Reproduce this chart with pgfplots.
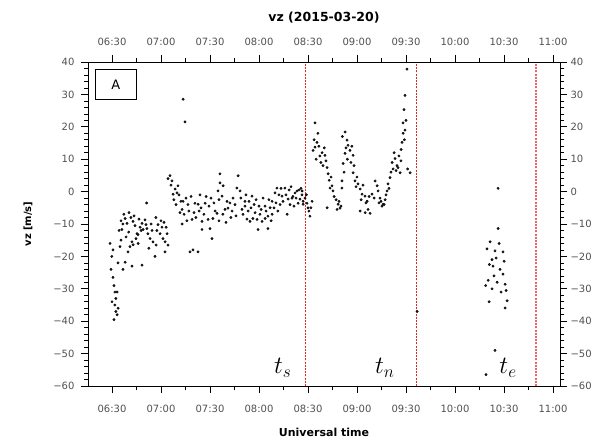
\documentclass[border=0pt]{standalone}
\usepackage{fontspec}
\setmainfont{DejaVu Sans}
\usepackage{pgfplots}
\pgfplotsset{compat=1.18}
\usetikzlibrary{calc}
\definecolor{tickgray}{RGB}{80,80,80}
\definecolor{cutred}{RGB}{225,40,40}

% vz samples, x = minutes after 06:00 UT
\pgfplotstableread{
m v
28.8 -16
29.4 -24
29.9 -20
30.6 -18
30.6 -26.5
31.2 -29
31.8 -31
31.8 -35
32.4 -33
33.1 -31
33.1 -38
33.7 -36
32.4 -37
31.2 -39.5
30.0 -34
33.7 -22
34.3 -12
34.9 -17
35.5 -9
36.7 -24
38.0 -21.8
42.2 -23
48.4 -22.7
56.3 -20
62.5 -18.6
38.0 -8.3
36.7 -10
36.1 -11.7
39.2 -9.8
42.9 -9.2
45.3 -13
45.9 -13.3
48.4 -9.8
49.0 -11.7
51.4 -11.4
52.0 -13
53.3 -14.5
55.1 -15.5
58.2 -10.2
59.4 -13
61.2 -14.5
62.5 -15.5
42.2 -15.5
41.0 -17
42.9 -16.4
39.8 -18.6
37.3 -7
40.4 -6.5
41.6 -8
43.5 -7.5
44.1 -10.5
46.5 -8.5
47.2 -11
47.8 -12
50.2 -8.7
50.8 -10.2
53.9 -10
54.5 -12
56.9 -8
57.5 -12
60.0 -9
60.6 -11
61.8 -9.5
63.1 -11
63.7 -13
64.3 -16.5
44.7 -14.5
46.0 -16
38.6 -14
40.2 -12.5
35.5 -15
57.0 -16.5
52.6 -17.5
51.2 -3.5
65.5 4.9
64.3 4
66.7 3.3
68.6 0.8
69.8 -0.4
67.4 -0.8
70.4 1.8
73.5 -3
72.9 -5.5
72.9 -10
76.5 -4
79.0 -8.6
77.8 -18.6
79.6 -18
73.5 28.5
74.7 21.5
80.8 -3.6
82.7 -3.9
87.0 -3.6
85.1 -9.2
88.8 -8.6
85.1 -11.7
90.0 -11.4
91.2 -14.5
82.7 -18.6
91.8 -8.3
94.3 -6.7
93.1 -6
96.1 5.5
96.1 2.7
94.9 0.2
97.4 -1.4
100.4 -3
99.2 -5.5
101.0 -5.1
103.5 -6
98.0 1.8
104.1 -2
107.2 4.9
106.5 1.1
108.4 0.2
109.6 -5.5
111.4 -4.5
111.4 -3
113.3 -6
115.7 -1.4
116.3 -8.3
114.5 -9.2
118.8 -8.6
119.4 -11.7
120.6 -7
121.9 -9.2
123.7 -8.3
123.7 -4.5
125.5 -7.6
125.5 -11.4
128.0 -7
128.0 -3
129.8 -0.4
131.0 1.1
134.1 -1.4
135.9 1.1
137.2 -7
137.8 -2.3
140.2 -2
142.1 -0.4
143.3 0.2
143.9 -3.6
145.1 -2.3
66.1 2
67.9 -2.5
69.2 -4
71.0 -1
71.6 -6.5
72.2 -3
74.1 -7
75.3 -2
75.9 -9
77.1 -6
78.4 -1.5
80.2 -6.5
81.4 -8
83.3 -6
83.9 -1
84.5 -5
86.3 -7
87.6 -1.5
89.4 -4.5
90.6 -2
92.4 -3.5
95.5 -2.5
95.5 -9
97.9 -7
99.8 -9.5
102.2 -3.5
102.8 -8
105.3 -4
105.9 -7.5
108.9 -2
110.2 -7
112.0 -1
112.6 -8.5
113.9 -3
115.1 -5
117.0 -4
117.6 -6.5
118.2 -2.5
120.0 -4.5
121.3 -5.5
122.5 -2
124.3 -6
126.1 -2.5
126.8 -5
127.4 -9
129.2 -5
130.4 -3.5
131.6 -6
132.2 -1
132.9 -4
133.5 1
134.7 -3
136.5 -1
138.4 0.5
139.0 -4
139.6 1.5
140.8 -1.5
141.4 -4.5
142.7 -2
144.5 0.5
145.7 1
146.3 -1
147.0 -3
146.4 0.2
148.2 -2
149.4 -3.6
150.0 -5
151.2 -7.6
152.5 -3
147.0 -3.9
149.0 -1
150.6 -6
151.8 -5
154.3 21.2
156.1 18
155.5 15.2
153.1 12.7
154.3 13.7
158.6 12
160.4 11.2
159.2 8
161.7 7.4
162.3 5.5
163.5 1.1
165.3 0.2
164.7 1.8
168.4 -3.9
169.6 -5.1
161.7 -5
172.7 18.4
173.9 15.9
174.5 14.3
175.7 12.7
172.7 11.8
177.6 11.2
171.5 8.7
170.8 3.3
170.8 1.1
177.6 5.8
178.8 3.3
180.6 2.4
181.9 0.8
183.1 -0.8
184.9 -1.4
186.2 -3
181.9 -6
186.8 -5.5
189.2 -0.8
188.0 -6.7
153.7 16
155.0 10
156.7 14
157.3 11
157.9 9
160.0 13.5
161.0 9.5
163.0 3.5
164.1 4.5
166.0 -1.5
167.2 -2.5
167.8 -5.5
169.0 -3
170.2 -4.5
173.3 13.5
174.1 10
176.3 9
176.9 14
178.2 8
179.4 1.5
180.0 4.5
182.5 -2.5
183.7 2
185.5 -3.5
187.4 -1.5
185.0 -6.5
171.0 17
172.1 6
191.1 3.3
192.3 1.8
192.9 0.2
194.1 -2
195.3 -4.5
196.0 -3.9
198.4 0.2
199.0 2.4
200.2 4.3
201.5 9
203.3 10.2
204.5 8
205.1 7.4
206.4 5.8
207.6 15.2
208.2 18
209.4 19
208.2 21.2
212.5 5.8
208.8 25.3
209.4 29.7
210.6 37.8
216.8 -37
190.5 -2
193.5 -3.5
194.7 -3
196.6 -4
197.2 -2.5
197.8 -1
199.6 1
200.8 6
202.1 7
202.7 12
203.9 6.5
205.7 11
206.9 9.5
207.0 13
209.0 16
210.0 22
211.0 7
266.4 1
266.4 -11.4
259.6 -17.7
264.5 -18.3
269.4 -18.6
262.7 -21
263.3 -23
269.4 -25.5
260.3 -27.4
265.8 -28
262.7 -30
270.7 -28.6
271.9 -33.7
260.9 -34
270.7 -35.9
264.5 -49
259.0 -56.5
261.5 -15.5
263.9 -26
267.6 -24
268.2 -31
261.0 -22.5
265.2 -20.5
267.0 -16
270.1 -21.5
258.8 -29
271.3 -30.5
}\vzdata

\pgfplotsset{
  vzframe/.style={
    scale only axis, width=472pt, height=324pt,
    xmin=15.3, xmax=304.3, ymin=-60, ymax=40,
    xtick={30,60,...,300},
    xticklabels={06:30,07:00,07:30,08:00,08:30,09:00,09:30,10:00,10:30,11:00},
    minor x tick num=1,
    ytick={-60,-50,...,40},
    yticklabels={−60,−50,−40,−30,−20,−10,0,10,20,30,40},
    minor y tick num=4,
    tick align=outside,
    major tick length=7pt, minor tick length=3.5pt,
    tick style={black, line width=0.6pt},
    axis line style={black, line width=0.8pt},
    tick label style={font=\fontsize{10}{12}\selectfont, text=tickgray},
  }
}

\begin{document}
\begin{tikzpicture}
\begin{axis}[
  vzframe,
  xticklabel pos=lower, yticklabel pos=left,
  xticklabel style={yshift=-9pt},
  yticklabel style={xshift=-3pt},
  clip=false,
  title={\bfseries vz (2015-03-20)},
  title style={at={(rel axis cs:0.5,1.139)}, anchor=center, yshift=-7pt, font=\fontsize{12.5}{14}\selectfont},
  xlabel={\bfseries Universal time},
  xlabel style={at={(rel axis cs:0.5,-0.142)}, anchor=center, font=\fontsize{11}{13}\selectfont},
  ylabel={\bfseries vz [m/s]},
  every axis y label/.style={at={(rel axis cs:-0.127,0.5)}, anchor=center, rotate=90, font=\fontsize{10}{12}\selectfont},
]
  \addplot[color=cutred, mark=none, line width=1.1pt, dash pattern=on 2pt off 1.2pt] coordinates {(148.5,-60) (148.5,40)};
  \addplot[color=cutred, mark=none, line width=1.1pt, dash pattern=on 2pt off 1.2pt] coordinates {(216.6,-60) (216.6,40)};
  \addplot[color=cutred!70, mark=none, line width=1.2pt, dash pattern=on 2pt off 1.2pt] coordinates {(289.6,-60) (289.6,40)};
  \addplot[only marks, mark=*, mark size=1.2pt, draw=none, fill=black!85] table[x=m, y=v] {\vzdata};
  \node[font=\fontsize{25}{27}\selectfont] at (axis cs:134.5,-54.5) {$t_s$};
  \node[font=\fontsize{25}{27}\selectfont] at (axis cs:197,-54.5) {$t_n$};
  \node[font=\fontsize{25}{27}\selectfont] at (axis cs:272.5,-54.5) {$t_e$};
  \node[draw=black, line width=0.8pt, fill=white, anchor=north west,
        minimum width=41pt, minimum height=30pt, font=\fontsize{13}{15}\selectfont]
        at ([xshift=7pt, yshift=-7pt]rel axis cs:0,1) {A\hspace{12pt}};
\end{axis}
\begin{axis}[
  vzframe,
  xticklabel pos=upper, yticklabel pos=right,
  xticklabel style={yshift=6pt},
]
  \addplot[draw=none, forget plot] coordinates {(30,0)};
\end{axis}
\pgfresetboundingbox
\path[use as bounding box] ($(current axis.south west)+(-88pt,-59pt)$) rectangle ($(current axis.north east)+(46pt,62pt)$);
\end{tikzpicture}
\end{document}
